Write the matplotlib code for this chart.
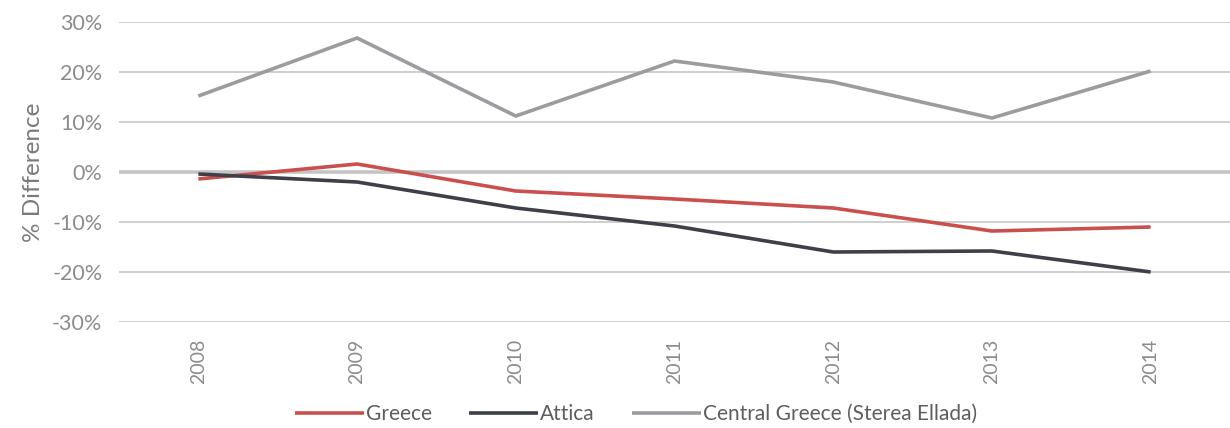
import matplotlib
matplotlib.use("Agg")
import matplotlib.pyplot as plt
from matplotlib.ticker import FuncFormatter

years = ["2008", "2009", "2010", "2011", "2012", "2013", "2014"]
greece = [-1.4, 1.6, -3.8, -5.4, -7.2, -11.8, -11.0]
attica = [-0.4, -2.0, -7.2, -10.8, -16.0, -15.8, -20.0]
central = [15.2, 26.8, 11.2, 22.2, 18.0, 10.8, 20.2]
series_names = ["Greece", "Attica", "Central Greece (Sterea Ellada)"]
yticks = [-30, -20, -10, 0, 10, 20, 30]

plt.rcParams['font.family'] = ['Lato', 'DejaVu Sans']
txt = "#8c8c8c"

fig = plt.figure(figsize=(12.3, 4.28), dpi=100)
ax = fig.add_axes([119/1230, 1 - 322/428, (1230-119)/1230, 300/428])

x = range(len(years))
ax.set_xlim(-0.5, len(years) - 0.5)
ax.set_ylim(-30, 30)
for t in yticks:
    if t == 0:
        ax.axhline(t, color="#c4c4c4", lw=2.6, zorder=1)
    else:
        ax.axhline(t, color="#cccccc", lw=1.3, zorder=1)

l1, = ax.plot(x, greece, color="#c9504f", lw=2.6, zorder=3, solid_capstyle="butt")
l2, = ax.plot(x, attica, color="#3e4049", lw=2.6, zorder=3, solid_capstyle="butt")
l3, = ax.plot(x, central, color="#9c9ba0", lw=2.6, zorder=3, solid_capstyle="butt")

ax.set_yticks(yticks)
ax.yaxis.set_major_formatter(FuncFormatter(lambda v, p: f"{int(v)}%"))
ax.set_xticks(list(x))
ax.set_xticklabels(years, rotation=90)
ax.tick_params(axis="both", length=0, colors=txt, labelsize=15.5)
ax.tick_params(axis="x", pad=12, labelsize=14)
ax.tick_params(axis="y", pad=12)
for s in ax.spines.values():
    s.set_visible(False)
ax.set_ylabel("% Difference", fontsize=17.5, color="#7a7a7a", labelpad=6)

fig.legend([l1, l2, l3], series_names, loc="center", bbox_to_anchor=(636/1230, 1 - 414/428),
           ncol=3, frameon=False, fontsize=15, handlelength=3.3, handletextpad=0.1,
           columnspacing=1.8, labelcolor="#5e5e5e")

fig.savefig("out.png", dpi=100)
